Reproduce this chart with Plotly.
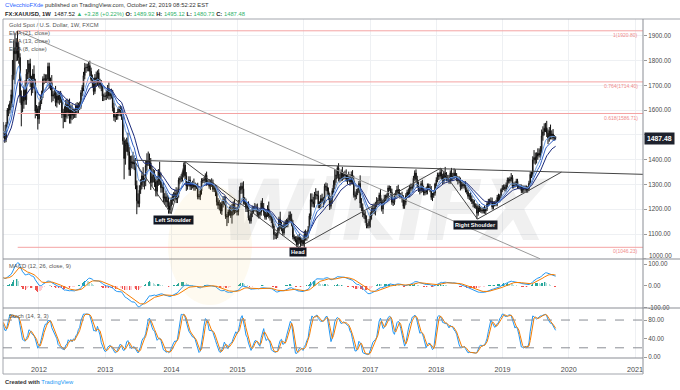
import pandas as pd
import numpy as np
import plotly.graph_objects as go

# ---------------- DATA (FX:XAUUSD weekly, read/estimated from the chart) ----------------
first_open = 1380
# weekly closes, Jan 2011 (warm-up, left of the visible window) .. Oct 2019
close_2011a = [1369, 1360, 1342, 1341, 1348, 1361, 1388, 1410, 1428, 1420, 1418, 1428, 1429,
               1475, 1487, 1505, 1556, 1492, 1493, 1493, 1536, 1542, 1530, 1540, 1502]
close_2011 = [1483, 1542, 1601, 1601, 1628, 1663, 1743, 1852, 1828, 1876, 1855, 1813, 1657, 1622,
              1636, 1681, 1642, 1746, 1753, 1788, 1724, 1684, 1746, 1712, 1597, 1606, 1565]
close_2012 = [1617, 1640, 1664, 1727, 1725, 1725, 1725, 1777, 1711, 1712, 1657, 1662, 1668, 1631,
              1658, 1642, 1663, 1645, 1583, 1591, 1572, 1622, 1591, 1627, 1566, 1604, 1580, 1590,
              1584, 1618, 1600, 1620, 1616, 1671, 1692, 1740, 1771, 1773, 1772, 1780, 1757, 1724,
              1711, 1676, 1731, 1714, 1751, 1712, 1702, 1697, 1657, 1657, 1656]
close_2013 = [1662, 1687, 1658, 1667, 1667, 1610, 1572, 1576, 1577, 1592, 1606, 1595, 1576, 1476,
              1405, 1462, 1469, 1432, 1360, 1386, 1392, 1383, 1387, 1296, 1234, 1223, 1277, 1296,
              1335, 1310, 1313, 1376, 1396, 1395, 1387, 1308, 1333, 1338, 1310, 1272, 1315, 1352,
              1313, 1287, 1288, 1244, 1250, 1230, 1234, 1197, 1213, 1238]
close_2014 = [1247, 1254, 1264, 1240, 1262, 1318, 1324, 1327, 1339, 1379, 1335, 1294, 1302, 1318,
              1293, 1300, 1299, 1290, 1293, 1292, 1250, 1252, 1274, 1315, 1316, 1320, 1337, 1310,
              1307, 1293, 1310, 1305, 1280, 1287, 1268, 1230, 1216, 1218, 1192, 1222, 1238, 1231,
              1171, 1169, 1189, 1196, 1175, 1191, 1222, 1195, 1195, 1190]
close_2015 = [1217, 1277, 1293, 1283, 1234, 1228, 1204, 1212, 1165, 1152, 1183, 1199, 1201, 1205,
              1203, 1178, 1178, 1189, 1225, 1205, 1189, 1168, 1179, 1201, 1173, 1169, 1159, 1132,
              1098, 1095, 1094, 1113, 1160, 1134, 1121, 1104, 1138, 1146, 1137, 1156, 1176, 1162,
              1141, 1088, 1081, 1076, 1057, 1086, 1075, 1065, 1075, 1060]
close_2016 = [1098, 1088, 1097, 1117, 1173, 1239, 1230, 1222, 1260, 1259, 1255, 1219, 1222, 1243,
              1235, 1233, 1293, 1290, 1273, 1252, 1212, 1242, 1275, 1297, 1322, 1339, 1366, 1327,
              1323, 1351, 1335, 1336, 1341, 1321, 1327, 1327, 1310, 1338, 1315, 1257, 1251, 1267,
              1275, 1304, 1225, 1208, 1183, 1177, 1160, 1134, 1133, 1151]
close_2017 = [1173, 1197, 1204, 1190, 1219, 1234, 1235, 1257, 1234, 1201, 1229, 1243, 1249, 1254,
              1286, 1284, 1268, 1228, 1228, 1253, 1267, 1279, 1266, 1254, 1256, 1242, 1212, 1228,
              1255, 1269, 1258, 1289, 1285, 1291, 1325, 1346, 1320, 1297, 1280, 1275, 1304, 1280,
              1266, 1269, 1275, 1294, 1287, 1279, 1248, 1256, 1265, 1302]
close_2018 = [1319, 1338, 1333, 1349, 1333, 1315, 1346, 1330, 1323, 1324, 1313, 1347, 1325, 1332,
              1346, 1336, 1323, 1315, 1318, 1291, 1301, 1294, 1298, 1278, 1270, 1252, 1255, 1241,
              1231, 1223, 1214, 1212, 1184, 1206, 1199, 1196, 1193, 1199, 1192, 1203, 1222, 1227,
              1233, 1232, 1209, 1222, 1223, 1222, 1248, 1238, 1256, 1279, 1287]
close_2019 = [1290, 1282, 1298, 1318, 1314, 1322, 1328, 1294, 1298, 1302, 1313, 1292, 1291, 1290,
              1275, 1286, 1281, 1286, 1277, 1283, 1305, 1341, 1341, 1399, 1409, 1400, 1415, 1426,
              1419, 1440, 1497, 1513, 1527, 1529, 1507, 1488, 1517, 1497, 1504, 1488, 1489.92, 1487.48]

# upper wicks (above body) and lower wicks (below body), per week
up_2011a = [15, 12, 10, 15, 12, 15, 20, 12, 15, 20, 15, 12, 10, 15, 12, 15, 20, 25, 20, 15, 15, 12, 20, 15, 12]
dn_2011a = [12, 15, 12, 10, 15, 10, 12, 15, 10, 15, 25, 15, 12, 10, 15, 12, 10, 30, 25, 20, 15, 15, 15, 20, 15]
up_2011 = [12, 10, 8, 22, 10, 20, 60, 30, 59, 15, 45, 20, 17, 23, 20, 15, 40, 20, 50, 15, 20, 15, 20, 35, 15, 15, 10]
dn_2011 = [15, 12, 10, 25, 15, 20, 50, 20, 123, 30, 55, 25, 27, 87, 30, 30, 20, 20, 20, 35, 30, 25, 15, 20, 30, 20, 43]
up_2012 = [15, 20, 15, 10, 20, 20, 20, 15, 15, 20, 30, 15, 15, 30, 15, 20, 10, 15, 15, 15, 25, 20, 25, 15, 20, 15,
           20, 15, 15, 10, 15, 10, 15, 10, 10, 15, 20, 15, 15, 15, 20, 15, 20, 20, 15, 25, 10, 15, 15, 20, 10, 10, 15]
dn_2012 = [20, 15, 15, 15, 20, 15, 15, 15, 23, 30, 25, 20, 15, 15, 20, 15, 20, 15, 15, 56, 20, 20, 25, 15, 20, 20,
           20, 15, 15, 15, 15, 15, 15, 10, 15, 15, 15, 20, 15, 15, 20, 15, 20, 15, 10, 20, 15, 20, 15, 20, 20, 20, 15]
up_2013 = [20, 15, 25, 15, 20, 15, 20, 15, 15, 15, 10, 15, 20, 24, 14, 20, 20, 40, 20, 30, 25, 40, 30, 20, 20, 30,
           20, 25, 15, 35, 15, 20, 30, 37, 30, 20, 42, 25, 20, 20, 15, 10, 40, 35, 15, 20, 15, 25, 30, 20, 15, 10]
dn_2013 = [15, 15, 15, 15, 20, 15, 15, 20, 15, 15, 15, 20, 15, 15, 84, 25, 30, 15, 25, 25, 20, 20, 25, 15, 54, 15,
           15, 15, 15, 20, 30, 20, 20, 20, 25, 30, 16, 25, 20, 20, 20, 20, 15, 20, 20, 15, 25, 20, 20, 15, 15, 31]
up_2014 = [15, 15, 15, 25, 10, 10, 10, 15, 15, 10, 13, 15, 10, 15, 15, 10, 15, 25, 15, 10, 15, 10, 10, 10, 10, 10,
           8, 15, 10, 15, 10, 15, 15, 10, 10, 15, 15, 20, 10, 10, 15, 15, 20, 10, 10, 15, 20, 30, 10, 20, 10, 15]
dn_2014 = [20, 15, 15, 15, 15, 15, 15, 15, 15, 10, 15, 20, 15, 10, 15, 15, 15, 15, 15, 10, 10, 10, 15, 15, 10, 10,
           15, 15, 10, 10, 15, 15, 10, 10, 15, 15, 15, 20, 10, 15, 15, 15, 10, 37, 25, 15, 10, 33, 15, 15, 10, 15]
up_2015 = [20, 15, 14, 15, 30, 15, 15, 15, 20, 10, 15, 15, 10, 20, 15, 20, 20, 10, 10, 20, 20, 10, 15, 15, 30, 15,
           10, 10, 10, 10, 10, 15, 10, 30, 15, 15, 10, 10, 15, 10, 15, 15, 20, 15, 10, 10, 15, 10, 15, 15, 10, 10]
dn_2015 = [15, 10, 15, 20, 15, 10, 15, 15, 10, 10, 10, 15, 15, 10, 15, 10, 15, 15, 15, 10, 15, 10, 10, 10, 10, 15,
           15, 10, 21, 15, 15, 10, 10, 15, 10, 10, 10, 15, 10, 10, 10, 10, 10, 10, 10, 10, 10, 11, 15, 19, 10, 10]
up_2016 = [15, 20, 15, 15, 10, 25, 25, 20, 10, 25, 15, 20, 10, 15, 20, 15, 10, 15, 15, 15, 15, 10, 10, 20, 40, 20,
           9, 20, 15, 10, 20, 15, 15, 20, 15, 25, 15, 15, 20, 20, 15, 15, 10, 10, 33, 20, 15, 15, 15, 15, 10, 10]
dn_2016 = [20, 15, 15, 15, 10, 15, 20, 15, 15, 20, 15, 15, 15, 15, 10, 25, 10, 15, 15, 15, 15, 10, 20, 10, 15, 15,
           15, 15, 15, 10, 20, 15, 15, 10, 20, 15, 15, 10, 15, 10, 15, 10, 10, 10, 20, 15, 15, 15, 15, 11, 10, 10]
up_2017 = [15, 10, 15, 20, 10, 15, 10, 10, 25, 10, 10, 15, 10, 10, 10, 10, 10, 15, 10, 10, 10, 15, 20, 15, 10, 15,
           15, 10, 10, 10, 15, 10, 15, 10, 10, 11, 15, 15, 15, 10, 10, 15, 15, 10, 15, 10, 10, 15, 15, 10, 10, 5]
dn_2017 = [25, 15, 15, 10, 15, 10, 15, 15, 10, 10, 20, 10, 10, 15, 15, 10, 10, 10, 15, 10, 10, 10, 10, 10, 10, 15,
           10, 10, 10, 10, 10, 10, 10, 15, 10, 10, 10, 10, 10, 15, 10, 10, 10, 10, 10, 15, 10, 10, 10, 15, 10, 10]
up_2018 = [10, 10, 10, 17, 15, 10, 10, 25, 20, 15, 15, 10, 20, 15, 19, 15, 10, 10, 15, 10, 10, 10, 10, 15, 10, 10,
           10, 15, 15, 10, 15, 10, 10, 10, 15, 10, 10, 10, 15, 5, 10, 15, 10, 15, 15, 10, 10, 15, 10, 15, 5, 5, 10]
dn_2018 = [10, 10, 15, 10, 15, 15, 10, 10, 10, 10, 10, 10, 10, 10, 10, 10, 10, 15, 10, 15, 10, 10, 10, 10, 10, 10,
           15, 10, 10, 15, 10, 10, 24, 10, 10, 10, 10, 10, 10, 15, 10, 10, 10, 10, 10, 10, 10, 10, 10, 10, 10, 10, 10]
up_2019 = [10, 10, 10, 10, 10, 10, 18, 10, 10, 10, 10, 10, 10, 10, 10, 10, 10, 10, 10, 10, 10, 10, 10, 15, 30, 20,
           15, 20, 20, 15, 25, 22, 20, 20, 28, 15, 15, 25, 15, 20, 10, 5.2]
dn_2019 = [10, 10, 10, 10, 10, 10, 10, 10, 10, 10, 10, 10, 10, 10, 10, 9, 15, 10, 10, 10, 10, 10, 15, 10, 15, 20,
           15, 15, 10, 20, 15, 20, 15, 15, 15, 25, 15, 15, 15, 10, 10, 6.75]

# drawings
fib_ratios = ["1", "0.764", "0.618", "0"]
fib_prices = [1920.80, 1714.40, 1586.71, 1046.23]
fib_start = "2011-09-06"
neck_dates = ["2013-06-06", "2021-02-14"]
neck_prices = [1398, 1341]
hs_dates = ["2013-06-06", "2013-12-31", "2014-03-17", "2015-12-03", "2018-01-25", "2018-08-16", "2019-11-22"]
hs_prices = [1398, 1182, 1392, 1046.23, 1366, 1160, 1350]
down_dates = ["2011-09-06", "2019-07-27"]
down_prices = [1920.80, 1000]
pattern_labels = ["Left Shoulder", "Head", "Right Shoulder"]
pattern_dates = ["2014-01-12", "2015-11-28", "2018-08-07"]
pattern_prices = [1157, 1028, 1137]
last_price = 1487.48

price_ticks = [1100, 1200, 1300, 1400, 1500, 1600, 1700, 1800, 1900]
price_floor = 1000
macd_ticks = [-100, 0, 100]
stoch_ticks = [0, 40, 80]
year_ticks = ["2012", "2013", "2014", "2015", "2016", "2017", "2018", "2019", "2020", "2021"]

# ---------------- assemble ----------------
closes = close_2011a + close_2011 + close_2012 + close_2013 + close_2014 + close_2015 + close_2016 + close_2017 + close_2018 + close_2019
ups = up_2011a + up_2011 + up_2012 + up_2013 + up_2014 + up_2015 + up_2016 + up_2017 + up_2018 + up_2019
dns = dn_2011a + dn_2011 + dn_2012 + dn_2013 + dn_2014 + dn_2015 + dn_2016 + dn_2017 + dn_2018 + dn_2019
assert len(closes) == len(ups) == len(dns) == 460, (len(closes), len(ups), len(dns))

dates = pd.date_range("2011-01-03", periods=len(closes), freq="W-MON")
c = np.array(closes, dtype=float)
o = np.concatenate([[first_open], c[:-1]])
h = np.maximum(o, c) + np.array(ups, dtype=float)
l = np.minimum(o, c) - np.array(dns, dtype=float)

s = pd.Series(c)
ema8 = s.ewm(span=8, adjust=False).mean()
ema13 = s.ewm(span=13, adjust=False).mean()
ema21 = s.ewm(span=21, adjust=False).mean()
macd = s.ewm(span=12, adjust=False).mean() - s.ewm(span=26, adjust=False).mean()
signal = macd.ewm(span=9, adjust=False).mean()
hist = macd - signal
hh = pd.Series(h).rolling(14).max()
ll = pd.Series(l).rolling(14).min()
k_raw = 100 * (s - ll) / (hh - ll)
k = k_raw.rolling(3).mean()
d = k.rolling(3).mean()

hcol = []
for i, v in enumerate(hist):
    prev = hist.iloc[i - 1] if i > 0 else v
    if v >= 0:
        hcol.append("#26a69a" if v >= prev else "#b2dfdb")
    else:
        hcol.append("#ffcdd2" if v >= prev else "#ef5350")

XR = ["2011-06-17", "2021-02-14"]
GRID = "#eef0f3"
FONT = "Liberation Sans, Arial, sans-serif"
TXT = "#4a4a4a"

fig = go.Figure()
fig.add_trace(go.Candlestick(
    x=dates, open=o, high=h, low=l, close=c, xaxis="x", yaxis="y",
    increasing=dict(line=dict(color="#111111", width=1), fillcolor="#ffffff"),
    decreasing=dict(line=dict(color="#111111", width=1), fillcolor="#111111"),
    whiskerwidth=0, hoverinfo="skip", showlegend=False))
for ser, col in [(ema21, "#1b2a7a"), (ema13, "#2f5fc4"), (ema8, "#6f9fe2")]:
    fig.add_trace(go.Scatter(x=dates, y=ser, mode="lines", line=dict(color=col, width=1),
                             xaxis="x", yaxis="y", hoverinfo="skip", showlegend=False))

for r, p in zip(fib_ratios, fib_prices):
    fig.add_trace(go.Scatter(x=[fib_start, XR[1]], y=[p, p], mode="lines",
                             line=dict(color="#f4a3a3", width=1), xaxis="x", yaxis="y",
                             hoverinfo="skip", showlegend=False))
fig.add_trace(go.Scatter(x=down_dates, y=down_prices, mode="lines", line=dict(color="#9a9a9a", width=1),
                         xaxis="x", yaxis="y", hoverinfo="skip", showlegend=False))
fig.add_trace(go.Scatter(x=neck_dates, y=neck_prices, mode="lines", line=dict(color="#444444", width=1),
                         xaxis="x", yaxis="y", hoverinfo="skip", showlegend=False))
fig.add_trace(go.Scatter(x=hs_dates, y=hs_prices, mode="lines", line=dict(color="#444444", width=1),
                         xaxis="x", yaxis="y", hoverinfo="skip", showlegend=False))

# MACD
fig.add_trace(go.Bar(x=dates, y=hist, marker=dict(color=hcol, line=dict(width=0)), width=7 * 86400000 * 0.7,
                     xaxis="x2", yaxis="y2", hoverinfo="skip", showlegend=False))
fig.add_trace(go.Scatter(x=dates, y=macd, mode="lines", line=dict(color="#2196f3", width=1),
                         xaxis="x2", yaxis="y2", hoverinfo="skip", showlegend=False))
fig.add_trace(go.Scatter(x=dates, y=signal, mode="lines", line=dict(color="#f57c00", width=1),
                         xaxis="x2", yaxis="y2", hoverinfo="skip", showlegend=False))
# Stochastic
fig.add_trace(go.Scatter(x=dates, y=k, mode="lines", line=dict(color="#2196f3", width=1),
                         xaxis="x3", yaxis="y3", hoverinfo="skip", showlegend=False))
fig.add_trace(go.Scatter(x=dates, y=d, mode="lines", line=dict(color="#f57c00", width=1),
                         xaxis="x3", yaxis="y3", hoverinfo="skip", showlegend=False))


def xp(X):
    return (X - 3) / 640.0


def yp(Y):
    return (358 - Y) / 339.0


year_vals = [f"{y}-01-01" for y in year_ticks]
xcommon = dict(range=XR, type="date", showgrid=True, gridcolor=GRID, gridwidth=1, tickvals=year_vals,
               ticktext=year_ticks, zeroline=False, showline=False, domain=[0, 1])
D1, D2 = yp(259), yp(308)
ycommon = dict(side="right", showline=False, zeroline=False, ticks="outside", ticklen=3, tickcolor="#9a9a9a",
               tickfont=dict(size=6.3, color=TXT, family=FONT))

BORDER = "#a3a6ad"
shapes = [
    dict(type="line", xref="paper", yref="paper", x0=0, x1=1.06, y0=1, y1=1, line=dict(color=BORDER, width=1)),
    dict(type="line", xref="paper", yref="paper", x0=0, x1=0, y0=yp(374), y1=1, line=dict(color=BORDER, width=1)),
    dict(type="line", xref="paper", yref="paper", x0=1, x1=1, y0=yp(374), y1=1, line=dict(color="#8a8d94", width=1)),
    dict(type="line", xref="paper", yref="paper", x0=0, x1=1, y0=yp(374), y1=yp(374), line=dict(color=BORDER, width=1)),
    dict(type="line", xref="paper", yref="paper", x0=0, x1=1.06, y0=D1, y1=D1, line=dict(color="#8a8d94", width=1)),
    dict(type="line", xref="paper", yref="paper", x0=0, x1=1.06, y0=D2, y1=D2, line=dict(color="#8a8d94", width=1)),
    dict(type="line", xref="paper", yref="paper", x0=0, x1=1, y0=0, y1=0, line=dict(color="#8a8d94", width=1)),
    dict(type="line", xref="paper", yref="y3", x0=0, x1=1, y0=80, y1=80, line=dict(color="#8a8d94", width=1, dash="dash")),
    dict(type="line", xref="paper", yref="y3", x0=0, x1=1, y0=20, y1=20, line=dict(color="#8a8d94", width=1, dash="dash")),
    dict(type="line", xref="paper", yref="y", x0=1, x1=1.005, y0=price_floor, y1=price_floor, line=dict(color="#9a9a9a", width=1)),
    # watermark logo
    dict(type="circle", xref="paper", yref="paper", x0=xp(168), x1=xp(252), y0=yp(305), y1=yp(185),
         fillcolor="rgba(245,185,70,0.08)", line=dict(width=0), layer="above"),
]

ann = []
small = dict(family=FONT, size=5.8, color="#555555")
ann.append(dict(xref="paper", yref="paper", x=0, y=yp(5), xanchor="left", yanchor="middle", showarrow=False,
                text="<span style='color:#2962ff'>CVecchioFXde</span> published on TradingView.com, October 22, 2019 08:52:22 EST",
                font=dict(family=FONT, size=5.8, color="#333333")))
G = "#2fb36b"
ann.append(dict(xref="paper", yref="paper", x=0, y=yp(14), xanchor="left", yanchor="middle", showarrow=False,
                text=(f"<b>FX:XAUUSD, 1W</b>  1487.52 <span style='color:{G}'>▲ +3.28 (+0.22%)</span> "
                      f"<b>O:</b> <span style='color:{G}'>1489.92</span> <b>H:</b> <span style='color:{G}'>1495.12</span> "
                      f"<b>L:</b> <span style='color:{G}'>1480.73</span> <b>C:</b> <span style='color:{G}'>1487.48</span>"),
                font=dict(family=FONT, size=5.8, color="#222222")))
for txt, Y in [("Gold Spot / U.S. Dollar, 1W, FXCM", 25.5), ("EMA (21, close)", 33.3),
               ("EMA (13, close)", 41.3), ("EMA (8, close)", 48.7)]:
    ann.append(dict(xref="paper", yref="paper", x=xp(7), y=yp(Y), xanchor="left", yanchor="middle",
                    showarrow=False, text=txt, font=small))
ann.append(dict(xref="paper", yref="paper", x=xp(7), y=yp(266), xanchor="left", yanchor="middle",
                showarrow=False, text="MACD (12, 26, close, 9)", font=small))
ann.append(dict(xref="paper", yref="paper", x=xp(7), y=yp(316), xanchor="left", yanchor="middle",
                showarrow=False, text="Stoch (14, 3, 3)", font=small))
ann.append(dict(xref="paper", yref="paper", x=0, y=yp(382), xanchor="left", yanchor="middle", showarrow=False,
                text="<b>Created with</b> <span style='color:#2196f3'>TradingView</span>",
                font=dict(family=FONT, size=5.8, color="#333333")))
# price-scale floor label sitting on the panel divider
ann.append(dict(xref="paper", yref="paper", x=1, y=yp(255.5), xanchor="left", yanchor="middle", showarrow=False,
                xshift=4, text=f"{price_floor:.2f}", font=dict(family=FONT, size=6.3, color=TXT)))
for r, p in zip(fib_ratios, fib_prices):
    ann.append(dict(xref="paper", yref="y", x=0.995, y=p, xanchor="right", yanchor="middle", yshift=-4,
                    showarrow=False, text=f"{r}({p:.2f})", font=dict(family=FONT, size=5, color="#f08c8c")))
for t, dx, py in zip(pattern_labels, pattern_dates, pattern_prices):
    ann.append(dict(xref="x", yref="y", x=dx, y=py, showarrow=False, text=f"<b>{t}</b>",
                    font=dict(family=FONT, size=5.6, color="#ffffff"), bgcolor="#131722", borderpad=1))
ann.append(dict(xref="paper", yref="y", x=1, y=last_price, xanchor="left", yanchor="middle", showarrow=False,
                text=f"<b>{last_price:.2f}</b>", font=dict(family=FONT, size=6.8, color="#ffffff"),
                bgcolor="#1e222d", borderpad=2, xshift=1))
ann.append(dict(xref="paper", yref="paper", x=xp(385), y=yp(262), showarrow=False, text="<b><i>WikiFX</i></b>",
                font=dict(family="DejaVu Sans", size=84, color="rgba(110,110,110,0.10)")))

fig.update_layout(
    width=680, height=390, margin=dict(l=3, r=37, t=19, b=32),
    paper_bgcolor="white", plot_bgcolor="white", showlegend=False, bargap=0,
    font=dict(family=FONT, size=7, color=TXT),
    xaxis=dict(xcommon, anchor="y", showticklabels=False, ticks="", rangeslider=dict(visible=False)),
    xaxis2=dict(xcommon, anchor="y2", showticklabels=False, ticks="", matches="x"),
    xaxis3=dict(xcommon, anchor="y3", showticklabels=True, matches="x", ticks="outside", ticklen=4,
                tickcolor="rgba(0,0,0,0)", tickfont=dict(size=7.2, color=TXT, family=FONT)),
    yaxis=dict(ycommon, domain=[D1, 1], range=[999, 1968.5], tickvals=price_ticks,
               ticktext=["" if v == 1500 else f"{v:.2f}" for v in price_ticks], showgrid=True, gridcolor=GRID),
    yaxis2=dict(ycommon, domain=[D2, D1], range=[-101, 123], tickvals=macd_ticks,
                ticktext=[f"{v:.2f}" for v in macd_ticks], showgrid=False),
    yaxis3=dict(ycommon, domain=[0, D2], range=[-2, 106], tickvals=stoch_ticks,
                ticktext=[f"{v:.2f}" for v in stoch_ticks], showgrid=False),
    shapes=shapes, annotations=ann,
)

fig.write_html("out.html", config={"displayModeBar": False, "staticPlot": True},
               post_script="document.body.style.margin='0';document.body.style.padding='0';document.body.style.overflow='hidden';")
